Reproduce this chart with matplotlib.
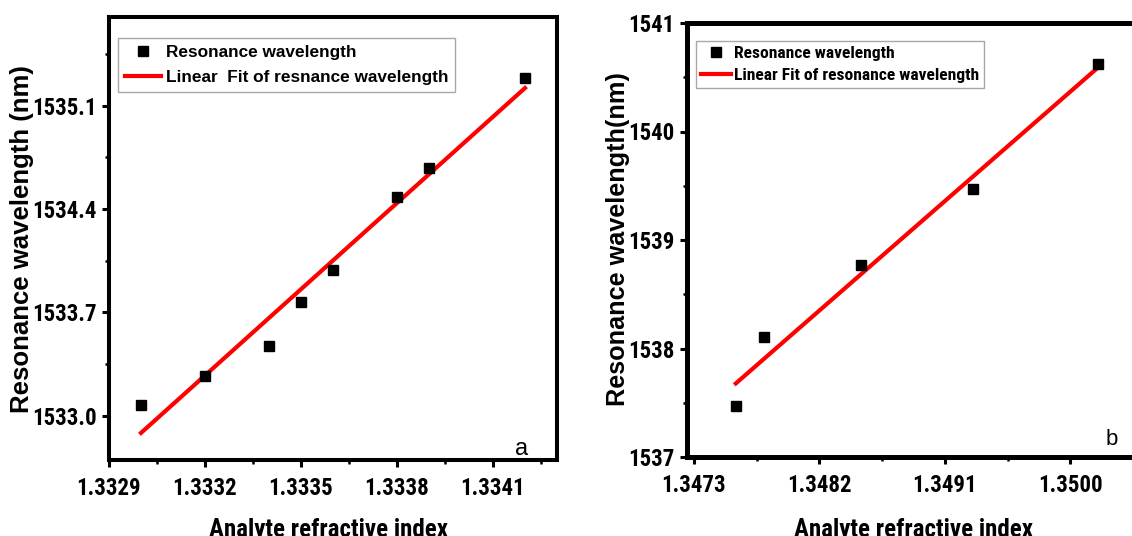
import matplotlib
matplotlib.use("Agg")
import matplotlib.pyplot as plt
import numpy as np
from matplotlib import font_manager
from matplotlib.ticker import AutoMinorLocator


def pick_font(names, alt):
    for name in names:
        try:
            font_manager.findfont(name, fallback_to_default=False)
            return name
        except ValueError:
            pass
    return alt


NARROW = pick_font(["Liberation Sans Narrow", "Arial Narrow", "Roboto Condensed",
                    "PT Sans Narrow", "Archivo Narrow"], "Liberation Sans")
WIDE = "Liberation Sans"

# ---- data -----------------------------------------------------------------
# panel a
ri_a = [1.3330, 1.3332, 1.3334, 1.3335, 1.3336, 1.3338, 1.3339, 1.3342]
wl_a = [1533.07, 1533.27, 1533.47, 1533.77, 1533.99, 1534.48, 1534.68, 1535.29]
xticks_a = [1.3329, 1.3332, 1.3335, 1.3338, 1.3341]
yticks_a = [1533.0, 1533.7, 1534.4, 1535.1]

# panel b
ri_b = [1.3476, 1.3478, 1.3485, 1.3493, 1.3502]
wl_b = [1537.47, 1538.11, 1538.77, 1539.47, 1540.62]
xticks_b = [1.3473, 1.3482, 1.3491, 1.3500]
yticks_b = [1537, 1538, 1539, 1540, 1541]

plt.rcParams["font.family"] = [NARROW, "DejaVu Sans"]
plt.rcParams["font.weight"] = "bold"

W, H = 1132, 536
fig = plt.figure(figsize=(W / 100, H / 100), dpi=100)


def px_axes(left, top, right, bottom):
    return fig.add_axes([left / W, 1 - bottom / H, (right - left) / W, (bottom - top) / H])


def style(ax, spine_lw):
    for s in ax.spines.values():
        s.set_linewidth(spine_lw)
    ax.xaxis.set_minor_locator(AutoMinorLocator(2))
    ax.yaxis.set_minor_locator(AutoMinorLocator(2))
    ax.tick_params(which="major", direction="out", length=5, width=2.2,
                   labelsize=16.5, top=False, right=False)
    ax.tick_params(which="minor", direction="out", length=3, width=1.8,
                   top=False, right=False)
    ax.tick_params(axis="y", pad=4)
    ax.tick_params(axis="x", pad=7)


def draw(ax, x, y, xlim, ylim, xt, yt, xfmt, yfmt, fit_label):
    x = np.array(x)
    y = np.array(y)
    k, b = np.polyfit(x, y, 1)
    xf = np.array([x.min(), x.max()])
    ax.plot(x, y, "s", color="black", ms=7.5, zorder=3,
            label="Resonance wavelength")
    ax.plot(xf, k * xf + b, "-", color="#ff0000", lw=3, zorder=2,
            label=fit_label)
    ax.set_xlim(*xlim)
    ax.set_ylim(*ylim)
    ax.set_xticks(xt)
    ax.set_xticklabels([xfmt % v for v in xt])
    ax.set_yticks(yt)
    ax.set_yticklabels([yfmt % v for v in yt])


# ---- panel a ----------------------------------------------------------------
ax1 = px_axes(109, 17, 557, 460)
draw(ax1, ri_a, wl_a, (1.3329, 1.3343), (1532.7, 1535.7),
     xticks_a, yticks_a, "%.4f", "%.1f",
     "Linear  Fit of resnance wavelength")
style(ax1, 2.9)
leg1 = ax1.legend(loc="upper left", bbox_to_anchor=(0.020, 0.953),
                  borderaxespad=0, numpoints=1, frameon=True, fancybox=False,
                  edgecolor="#a8a8a8", framealpha=1,
                  prop={"family": WIDE, "weight": "bold", "size": 12.4},
                  borderpad=0.42, labelspacing=0.55, handlelength=2.1,
                  handletextpad=0.25)
leg1.get_frame().set_linewidth(1.0)
ax1.text(0.921, 0.012, "a", transform=ax1.transAxes, ha="center",
         va="baseline", fontsize=17, fontweight="normal", family=WIDE)

# ---- panel b ----------------------------------------------------------------
ax2 = px_axes(687, 23, 1140, 457)
draw(ax2, ri_b, wl_b, (1.34725, 1.3505), (1537, 1541),
     xticks_b, yticks_b, "%.4f", "%d",
     "Linear Fit of resonance wavelength")
style(ax2, 3.6)
leg2 = ax2.legend(loc="upper left", bbox_to_anchor=(0.019, 0.958),
                  borderaxespad=0, numpoints=1, frameon=True, fancybox=False,
                  edgecolor="#a8a8a8", framealpha=1,
                  prop={"family": NARROW, "weight": "bold", "size": 12.6},
                  borderpad=0.28, labelspacing=0.38, handlelength=1.75,
                  handletextpad=0.18)
leg2.get_frame().set_linewidth(1.0)
ax2.text(0.938, 0.028, "b", transform=ax2.transAxes, ha="center",
         va="baseline", fontsize=16, fontweight="normal", family=WIDE)

# ---- axis titles ------------------------------------------------------------
fig.text(22 / W, 1 - 239.5 / H, "Resonance wavelength (nm)", rotation=90,
         ha="center", va="center", fontsize=18.5, family=WIDE, weight="bold")
fig.text(618 / W, 1 - 239.5 / H, "Resonance wavelength(nm)", rotation=90,
         ha="center", va="center", fontsize=18.2, family=WIDE, weight="bold")
fig.text(328.6 / W, 1 - 518 / H, "Analyte refractive index",
         ha="center", va="top", fontsize=18, weight="bold")
fig.text(913.5 / W, 1 - 518 / H, "Analyte refractive index",
         ha="center", va="top", fontsize=18, weight="bold")

fig.savefig("out.png", dpi=100, facecolor="white")
